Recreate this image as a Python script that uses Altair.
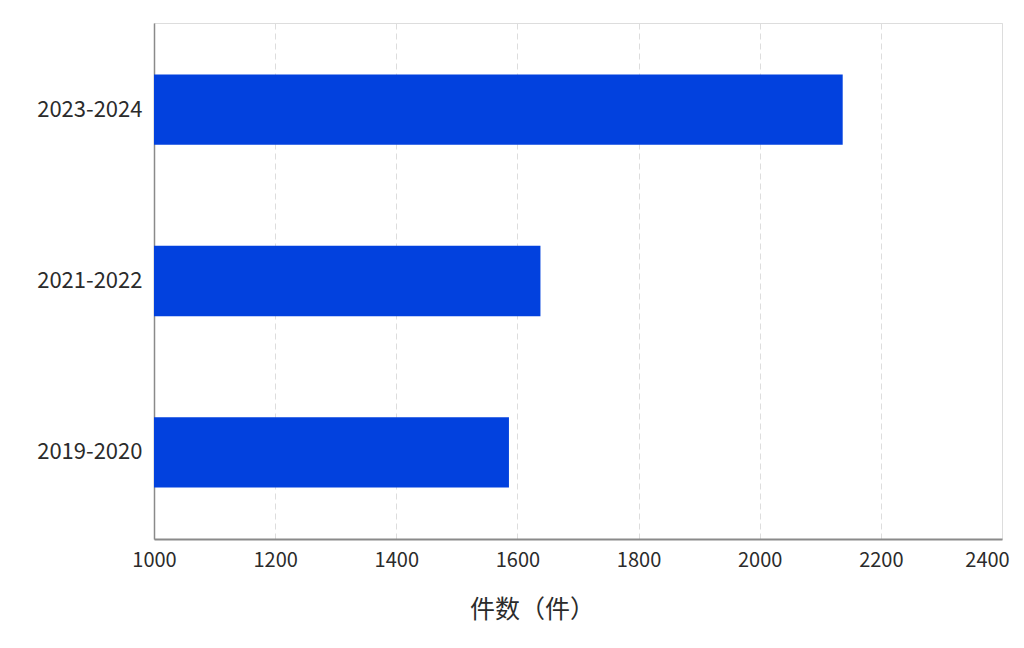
import altair as alt
import pandas as pd

periods = ["2019-2020", "2021-2022", "2023-2024"]
counts = [1586, 1638, 2137]
x_ticks = [1000, 1200, 1400, 1600, 1800, 2000, 2200, 2400]

df = pd.DataFrame({"period": periods, "count": counts})

FONT = "Noto Sans CJK SC"

chart = alt.Chart(df).mark_bar(color="#0241DE", clip=True).encode(
    x=alt.X(
        "count:Q",
        scale=alt.Scale(domain=[1000, 2400], zero=False, nice=False),
        axis=alt.Axis(
            values=x_ticks,
            format="d",
            title="件数（件）",
            titleFont=FONT,
            titleFontSize=25,
            titleFontWeight="normal",
            titleColor="#2b2b2b",
            titleAnchor="middle",
            titleX=378,
            titleY=70,
            titleBaseline="middle",
            labelFont=FONT,
            labelFontSize=20,
            labelColor="#2b2b2b",
            labelPadding=11,
            labelFlush=False,
            labelOffset={"condition": {"test": "datum.value == 2400", "value": -15}, "value": 0},
            ticks=False,
            domainColor="#8a8a8a",
            domainWidth=2,
            grid=True,
            gridColor="#dddddd",
            gridDash=[6, 4],
            gridWidth=1,
        ),
    ),
    y=alt.Y(
        "period:N",
        sort=list(reversed(periods)),
        scale=alt.Scale(paddingInner=0.59, paddingOuter=0.3),
        axis=alt.Axis(
            title=None,
            labelFont=FONT,
            labelFontSize=22,
            labelColor="#2b2b2b",
            labelPadding=12,
            ticks=False,
            domainColor="#8a8a8a",
            domainWidth=1.5,
            grid=False,
        ),
    ),
).properties(
    width=848,
    height=516,
    padding={"left": 146, "top": 15, "right": 14, "bottom": 101},
    autosize=alt.AutoSizeParams(type="none"),
).configure_view(stroke=None).configure(background="white")

chart.save("out.html", embed_options={"renderer": "svg", "actions": False})
